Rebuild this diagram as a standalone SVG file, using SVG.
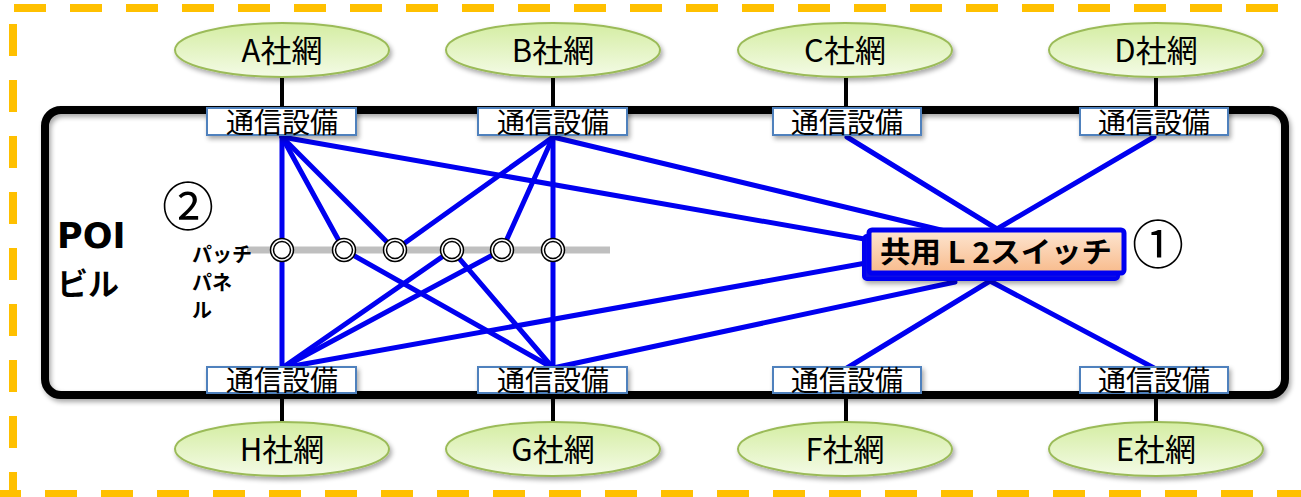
<svg xmlns="http://www.w3.org/2000/svg" width="1301" height="497" viewBox="0 0 1301 497">
<style>
.jp{font-family:"Noto Sans CJK JP","Noto Sans",sans-serif}
.net{font-size:31px;fill:#000;text-anchor:middle}
.eq{font-size:28px;fill:#000;text-anchor:middle}
.ell{fill:url(#gGreen);stroke:#9bbb59;stroke-width:2}
.box{fill:#fff;stroke:#4f81bd;stroke-width:2}
.vc{stroke:#000;stroke-width:4}
.bl{stroke:#0000f0;stroke-width:5;stroke-linecap:round;fill:none}
.dash{stroke:#ffc000;stroke-width:8;stroke-dasharray:32 24;fill:none}
.pc{fill:#fff;stroke:#000;stroke-width:1.5}
.cd{font-size:52px;text-anchor:middle;fill:#000}
</style>
<defs>
<linearGradient id="gGreen" x1="0" y1="0" x2="0" y2="1">
<stop offset="0" stop-color="#d4eda2"/>
<stop offset="1" stop-color="#f4fbe6"/>
</linearGradient>
<linearGradient id="gPeach" x1="0" y1="0" x2="0" y2="1">
<stop offset="0" stop-color="#fde6d2"/>
<stop offset="1" stop-color="#f8bb8c"/>
</linearGradient>
<filter id="sh" x="-10%" y="-20%" width="120%" height="150%">
<feGaussianBlur in="SourceAlpha" stdDeviation="2.5"/>
<feOffset dx="2" dy="3" result="b"/>
<feComponentTransfer><feFuncA type="linear" slope="0.35"/></feComponentTransfer>
<feMerge><feMergeNode/><feMergeNode in="SourceGraphic"/></feMerge>
</filter>
</defs>

<rect width="1301" height="497" fill="#fff"/>

<g id="border">
<line class="dash" x1="14" y1="8" x2="1301" y2="8"/>
<line class="dash" x1="13" y1="24" x2="13" y2="497"/>
<line class="dash" x1="-11" y1="494" x2="1301" y2="494"/>
</g>

<g id="poi-building">
<rect x="45" y="110" width="1240" height="285" rx="16" fill="none" stroke="#000" stroke-width="8" filter="url(#sh)"/>
<text x="57" y="248" font-family="DejaVu Sans,Verdana,sans-serif" font-weight="bold" font-size="35">POI</text>
<text x="57" y="295" class="jp" font-weight="bold" font-size="31">ビル</text>
</g>

<g id="patch-bar">
<line x1="247" y1="250" x2="610" y2="250" stroke="#bfbfbf" stroke-width="7"/>
</g>

<g id="stubs">
<line class="vc" x1="282" y1="76" x2="282" y2="110"/>
<line class="vc" x1="553" y1="76" x2="553" y2="110"/>
<line class="vc" x1="846" y1="76" x2="846" y2="110"/>
<line class="vc" x1="1156" y1="76" x2="1156" y2="110"/>
<line class="vc" x1="282" y1="392" x2="282" y2="423"/>
<line class="vc" x1="553" y1="392" x2="553" y2="423"/>
<line class="vc" x1="846" y1="392" x2="846" y2="423"/>
<line class="vc" x1="1156" y1="392" x2="1156" y2="423"/>
</g>

<g id="connectors">
<line class="bl" x1="282" y1="137" x2="282" y2="368"/>
<line class="bl" x1="282" y1="137" x2="344" y2="250"/>
<line class="bl" x1="282" y1="137" x2="395" y2="250"/>
<line class="bl" x1="282" y1="137" x2="870" y2="240"/>
<line class="bl" x1="553" y1="137" x2="395" y2="250"/>
<line class="bl" x1="553" y1="137" x2="502" y2="250"/>
<line class="bl" x1="553" y1="137" x2="553" y2="368"/>
<line class="bl" x1="553" y1="137" x2="945" y2="231"/>
<line class="bl" x1="847" y1="137" x2="997" y2="229"/>
<line class="bl" x1="1154" y1="137" x2="997" y2="229"/>
<line class="bl" x1="344" y1="250" x2="553" y2="368"/>
<line class="bl" x1="452" y1="250" x2="282" y2="368"/>
<line class="bl" x1="452" y1="250" x2="553" y2="368"/>
<line class="bl" x1="502" y1="250" x2="282" y2="368"/>
<line class="bl" x1="282" y1="368" x2="866" y2="263"/>
<line class="bl" x1="553" y1="368" x2="955" y2="282"/>
<line class="bl" x1="847" y1="368" x2="990" y2="281"/>
<line class="bl" x1="1154" y1="368" x2="990" y2="281"/>
</g>

<g id="patch-panel">
<circle class="pc" cx="282" cy="250" r="11.5"/><circle class="pc" cx="282" cy="250" r="8.5"/>
<circle class="pc" cx="344" cy="250" r="11.5"/><circle class="pc" cx="344" cy="250" r="8.5"/>
<circle class="pc" cx="395" cy="250" r="11.5"/><circle class="pc" cx="395" cy="250" r="8.5"/>
<circle class="pc" cx="452" cy="250" r="11.5"/><circle class="pc" cx="452" cy="250" r="8.5"/>
<circle class="pc" cx="502" cy="250" r="11.5"/><circle class="pc" cx="502" cy="250" r="8.5"/>
<circle class="pc" cx="553" cy="250" r="11.5"/><circle class="pc" cx="553" cy="250" r="8.5"/>
<text class="jp" font-weight="bold" font-size="20" fill="#000"><tspan x="192" y="262">パッチ</tspan><tspan x="192" y="290">パネ</tspan><tspan x="192" y="318">ル</tspan></text>
<text x="188" y="226" class="jp cd">②</text>
</g>

<g id="net-A"><ellipse class="ell" cx="282" cy="50" rx="107" ry="27" filter="url(#sh)"/><text class="jp net" x="282" y="62">A社網</text></g>
<g id="net-B"><ellipse class="ell" cx="553" cy="50" rx="107" ry="27" filter="url(#sh)"/><text class="jp net" x="553" y="62">B社網</text></g>
<g id="net-C"><ellipse class="ell" cx="845" cy="50" rx="107" ry="27" filter="url(#sh)"/><text class="jp net" x="845" y="62">C社網</text></g>
<g id="net-D"><ellipse class="ell" cx="1156" cy="50" rx="107" ry="27" filter="url(#sh)"/><text class="jp net" x="1156" y="62">D社網</text></g>
<g id="net-H"><ellipse class="ell" cx="282" cy="449" rx="107" ry="27" filter="url(#sh)"/><text class="jp net" x="282" y="461">H社網</text></g>
<g id="net-G"><ellipse class="ell" cx="553" cy="449" rx="107" ry="27" filter="url(#sh)"/><text class="jp net" x="553" y="461">G社網</text></g>
<g id="net-F"><ellipse class="ell" cx="845" cy="449" rx="107" ry="27" filter="url(#sh)"/><text class="jp net" x="845" y="461">F社網</text></g>
<g id="net-E"><ellipse class="ell" cx="1156" cy="449" rx="107" ry="27" filter="url(#sh)"/><text class="jp net" x="1156" y="461">E社網</text></g>

<g id="eq-A"><rect class="box" x="207" y="108" width="149" height="27" filter="url(#sh)"/><text class="jp eq" x="282" y="133">通信設備</text></g>
<g id="eq-B"><rect class="box" x="478" y="108" width="149" height="27" filter="url(#sh)"/><text class="jp eq" x="553" y="133">通信設備</text></g>
<g id="eq-C"><rect class="box" x="773" y="108" width="148" height="27" filter="url(#sh)"/><text class="jp eq" x="847" y="133">通信設備</text></g>
<g id="eq-D"><rect class="box" x="1080" y="108" width="148" height="27" filter="url(#sh)"/><text class="jp eq" x="1154" y="133">通信設備</text></g>
<g id="eq-H"><rect class="box" x="207" y="367" width="149" height="26" filter="url(#sh)"/><text class="jp eq" x="282" y="391">通信設備</text></g>
<g id="eq-G"><rect class="box" x="478" y="367" width="149" height="26" filter="url(#sh)"/><text class="jp eq" x="553" y="391">通信設備</text></g>
<g id="eq-F"><rect class="box" x="773" y="367" width="148" height="26" filter="url(#sh)"/><text class="jp eq" x="847" y="391">通信設備</text></g>
<g id="eq-E"><rect class="box" x="1080" y="367" width="148" height="26" filter="url(#sh)"/><text class="jp eq" x="1154" y="391">通信設備</text></g>

<g id="l2-switch">
<rect x="864" y="236" width="254" height="43" rx="3" fill="#0a0ae6" stroke="#0000f0" stroke-width="4" filter="url(#sh)"/>
<rect x="869" y="230" width="255" height="43" rx="3" fill="url(#gPeach)" stroke="#0000f0" stroke-width="5"/>
<text x="996" y="263" class="jp" font-weight="bold" font-size="29" text-anchor="middle" textLength="232" lengthAdjust="spacingAndGlyphs">共用 L 2スイッチ</text>
<text x="1158" y="264" class="jp cd">①</text>
</g>
</svg>
